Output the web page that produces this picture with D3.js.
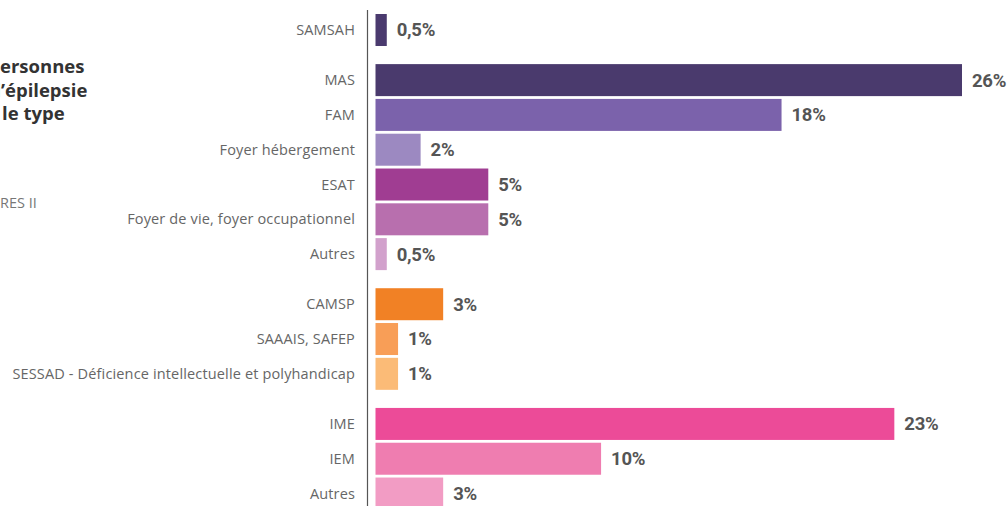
<!DOCTYPE html>
<html lang="fr">
<head>
<meta charset="utf-8">
<script src="https://cdn.jsdelivr.net/npm/d3@7"></script>
<style>
  html, body { margin: 0; padding: 0; background: #fff; overflow: hidden; }
  svg { display: block; }
  .cat { font-family: "Open Sans", "Noto Sans", sans-serif; font-size: 14.5px; letter-spacing: 0.15px; fill: #666; }
  .val { font-family: Roboto, "Noto Sans", sans-serif; font-weight: 700; font-size: 18.5px; letter-spacing: -0.3px; fill: #555; }
  .title { font-family: "Open Sans", "Noto Sans", sans-serif; font-weight: 700; font-size: 18.5px; fill: #333; }
  .src { font-family: "Open Sans", "Noto Sans", sans-serif; font-size: 14.5px; fill: #777; }
</style>
</head>
<body>
<svg id="chart" width="1008" height="506"></svg>
<script>
// Types de structures d'accueil, regroupés par famille
const categories = [
  "SAMSAH",
  "MAS", "FAM", "Foyer hébergement", "ESAT", "Foyer de vie, foyer occupationnel", "Autres",
  "CAMSP", "SAAAIS, SAFEP", "SESSAD - Déficience intellectuelle et polyhandicap",
  "IME", "IEM", "Autres"
];
// Part des personnes accueillies (%)
const values = [0.5, 26, 18, 2, 5, 5, 0.5, 3, 1, 1, 23, 10, 3];
// Famille de chaque structure
const groups = [0, 1, 1, 1, 1, 1, 1, 2, 2, 2, 3, 3, 3];
// Titre (début de ligne, fin de ligne) et source
const titleLines = [
  ["Répartition des p", "ersonnes"],
  ["accueillies atteintes d", "’épilepsie"],
  ["selon ", "le type"]
];
const sourceLine = ["Source : enquête ", "RES II"];

// Palette par barre
const palette = [
  "#4a3a6e",
  "#4a3a6d", "#7b62ab", "#9c89c1", "#a03d92", "#b86fae", "#d2a1cc",
  "#f18125", "#f89e57", "#fbbb77",
  "#ec4b98", "#ef7db0", "#f29cc4"
];

const svg = d3.select("#chart");

const fr = d3.formatLocale({ decimal: ",", thousands: " ", grouping: [3], currency: ["", " €"] });
const fmt = v => fr.format("~")(v) + "%";

// Échelle horizontale des pourcentages
const x = d3.scaleLinear().domain([0, 26]).range([375.5, 962]);

// Position verticale : un pas par barre plus un écart entre familles
const groupGap = 0.44;
const slot = (i) => i + groups[i] * groupGap;
const y = d3.scaleLinear().domain([0, 1]).range([14, 48.8]);
const barH = 32;

const rows = categories.map((c, i) => ({ c, v: values[i], i }));

// Barres
svg.append("g").selectAll("rect")
  .data(rows)
  .join("rect")
  .attr("x", x(0))
  .attr("y", d => y(slot(d.i)))
  .attr("width", d => x(d.v) - x(0))
  .attr("height", barH)
  .attr("fill", d => palette[d.i]);

// Libellés des catégories
svg.append("g").selectAll("text")
  .data(rows)
  .join("text")
  .attr("class", "cat")
  .attr("x", 355)
  .attr("y", d => y(slot(d.i)) + barH / 2)
  .attr("dy", "0.35em")
  .attr("text-anchor", "end")
  .text(d => d.c);

// Valeurs en bout de barre
svg.append("g").selectAll("text")
  .data(rows)
  .join("text")
  .attr("class", "val")
  .attr("x", d => x(d.v) + 10)
  .attr("y", d => y(slot(d.i)) + barH / 2)
  .attr("dy", "0.35em")
  .text(d => fmt(d.v));

// Axe vertical
svg.append("line")
  .attr("x1", 367.5).attr("x2", 367.5)
  .attr("y1", 10).attr("y2", 506)
  .attr("stroke", "#555")
  .attr("stroke-width", 1.2);

// Bloc de titre, calé à gauche du cadre : la fin de chaque ligne commence au bord
function placeLine(cls, parts, yPos, startX) {
  const t = svg.append("text").attr("class", cls).attr("y", yPos);
  const head = t.append("tspan").text(parts[0]);
  t.append("tspan").text(parts[1]);
  const w = head.node().getComputedTextLength();
  t.attr("x", startX - w);
}
const titleStarts = [0, 1, 2];
titleLines.forEach((parts, i) => placeLine("title", parts, 73 + i * 23.5, titleStarts[i]));
placeLine("src", sourceLine, 208, 0);
</script>
</body>
</html>
